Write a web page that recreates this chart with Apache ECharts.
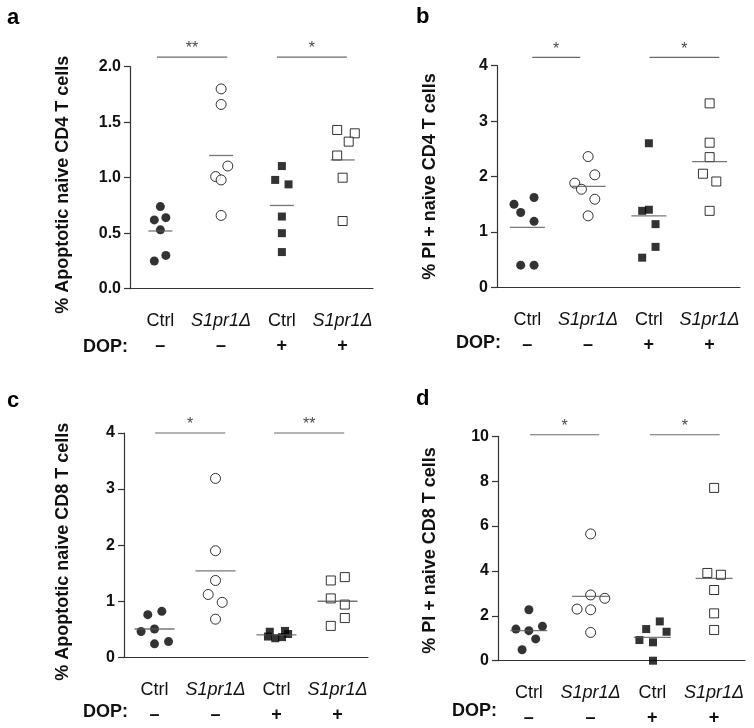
<!DOCTYPE html>
<html>
<head>
<meta charset="utf-8">
<script src="https://cdn.jsdelivr.net/npm/echarts@6/dist/echarts.min.js"></script>
<style>
html, body { margin: 0; padding: 0; background: #fff; }
#main { width: 754px; height: 728px; }
</style>
</head>
<body>
<div id="main"></div>
<script>
// groups on the x axis
var groups = ['Ctrl', 'S1pr1Δ', 'Ctrl', 'S1pr1Δ'];
var dop = ['–', '–', '+', '+'];

// a: % apoptotic naive CD4 T cells
var aVals = [
    [0.74, 0.62, 0.64, 0.53, 0.25, 0.30],
    [1.80, 1.66, 1.105, 1.01, 0.98, 0.66],
    [1.105, 0.98, 0.94, 0.65, 0.50, 0.33],
    [1.43, 1.40, 1.325, 1.20, 1.00, 0.61]
];
var aJit = [
    [0, -0.1, 0.09, 0, -0.1, 0.09],
    [0, 0, 0.11, -0.09, 0, 0],
    [0, -0.11, 0.11, 0, 0, 0],
    [-0.09, 0.2, 0.1, -0.09, 0, 0]
];
var aMeans = [0.52, 1.20, 0.75, 1.16];
var aSig = [[-0.056, 1.10, '**'], [1.92, 3.07, '*']];
var aSigY = 2.087;

// b: % PI+ naive CD4 T cells
var bVals = [
    [1.50, 1.62, 1.35, 1.19, 0.40, 0.40],
    [2.36, 2.03, 1.88, 1.77, 1.59, 1.29],
    [2.60, 1.38, 1.40, 1.14, 0.73, 0.535],
    [3.32, 2.61, 2.35, 2.05, 1.91, 1.38]
];
var bJit = [
    [-0.22, 0.11, -0.11, 0.11, -0.11, 0.11],
    [0, 0.11, -0.22, -0.11, 0.11, 0],
    [0, -0.11, 0, 0.11, 0.11, -0.11],
    [0, 0, 0, -0.11, 0.11, 0]
];
var bMeans = [1.08, 1.82, 1.29, 2.27];
var bSig = [[0.08, 0.87, '*'], [2.01, 3.16, '*']];
var bSigY = 4.15;

// c: % apoptotic naive CD8 T cells
var cVals = [
    [0.76, 0.82, 0.46, 0.505, 0.24, 0.28],
    [3.19, 1.90, 1.37, 1.12, 0.98, 0.68],
    [0.456, 0.47, 0.37, 0.34, 0.36, 0.415],
    [1.37, 1.43, 1.05, 0.94, 0.70, 0.56]
];
var cJit = [
    [-0.11, 0.12, -0.22, 0, 0, 0.23],
    [0, 0, 0, -0.12, 0.11, 0],
    [-0.11, 0.14, -0.14, -0.02, 0.09, 0.19],
    [-0.11, 0.12, -0.11, 0.12, 0.12, -0.11]
];
var cMeans = [0.505, 1.54, 0.40, 1.00];
var cSig = [[0.01, 1.16, '*'], [1.96, 3.11, '**']];
var cSigY = 4.0;

// d: % PI+ naive CD8 T cells
var dVals = [
    [2.27, 1.41, 1.34, 1.53, 0.97, 0.49],
    [5.65, 2.93, 2.78, 2.30, 2.27, 1.26],
    [1.75, 1.41, 1.29, 0.92, 0.82, 0.0],
    [7.70, 3.91, 3.83, 3.15, 2.11, 1.37]
];
var dJit = [
    [0, -0.21, 0, 0.22, 0.11, -0.11],
    [0, 0, 0.23, -0.22, 0, 0],
    [0.12, -0.1, 0.23, -0.21, 0.01, 0.01],
    [0, -0.11, 0.11, 0, 0, 0]
];
var dMeans = [1.34, 2.87, 1.04, 3.67];
var dSig = [[0.02, 1.14, '*'], [1.96, 3.09, '*']];
var dSigY = 10.07;

var font = 'Liberation Sans, Arial, Helvetica, sans-serif';
var ink = '#111';
var axisCol = '#333';

var panels = [
    {letter: 'a', name: '% Apoptotic naive CD4 T cells', max: 2, interval: 0.5, digits: 1,
     vals: aVals, jit: aJit, means: aMeans, sig: aSig, sigY: aSigY, meanW: 24, nameGap: 58, nameShift: 14,
     grid: {left: 130, top: 66.7, width: 243, height: 222}, dopAt: [128, 347], letterAt: [7, 18]},
    {letter: 'b', name: '% PI + naive CD4 T cells', max: 4, interval: 1, digits: 0,
     vals: bVals, jit: bJit, means: bMeans, sig: bSig, sigY: bSigY, meanW: 35, nameGap: 58, nameShift: 0,
     grid: {left: 497, top: 65.7, width: 243, height: 221.6}, dopAt: [501, 343], letterAt: [416, 17]},
    {letter: 'c', name: '% Apoptotic naive CD8 T cells', max: 4, interval: 1, digits: 0,
     vals: cVals, jit: cJit, means: cMeans, sig: cSig, sigY: cSigY, meanW: 40, nameGap: 52, nameShift: 13,
     grid: {left: 124, top: 433, width: 244, height: 224.3}, dopAt: [128, 712], letterAt: [7, 401]},
    {letter: 'd', name: '% PI + naive CD8 T cells', max: 10, interval: 2, digits: 0,
     vals: dVals, jit: dJit, means: dMeans, sig: dSig, sigY: dSigY, meanW: 37, nameGap: 59, nameShift: 4,
     grid: {left: 498, top: 436.3, width: 247, height: 224.4}, dopAt: [497, 711], letterAt: [416, 399]}
];

// marker look per group: filled circle, open circle, filled square, open square
var markers = [
    {symbol: 'circle', size: 9, fill: '#000'},
    {symbol: 'circle', size: 10, fill: '#fff'},
    {symbol: 'rect', size: 8, fill: '#000'},
    {symbol: 'rect', size: 9, fill: '#fff'}
];

var option = {
    animation: false,
    backgroundColor: '#fff',
    textStyle: {fontFamily: font},
    grid: [], xAxis: [], yAxis: [], series: [], graphic: []
};

panels.forEach(function (p, i) {
    option.grid.push(p.grid);
    option.xAxis.push({
        type: 'category', gridIndex: i, data: groups,
        axisLine: {onZero: false, lineStyle: {color: axisCol, width: 1.2}},
        axisTick: {alignWithLabel: true, length: 6, lineStyle: {color: axisCol, width: 1.2}},
        axisLabel: {
            margin: 20, interval: 0,
            formatter: function (v, k) {
                var top = k % 2 ? '{i|' + v + '}' : '{n|' + v + '}';
                return top + '\n{s|' + dop[k] + '}';
            },
            rich: {
                n: {fontSize: 18, color: ink, lineHeight: 25, fontFamily: font},
                i: {fontSize: 18, color: ink, lineHeight: 25, fontStyle: 'italic', fontFamily: font},
                s: {fontSize: 18, color: ink, lineHeight: 25, fontWeight: 'bold', fontFamily: font}
            }
        },
        splitLine: {show: false}
    });
    option.xAxis.push({type: 'value', gridIndex: i, min: -0.5, max: 3.5, show: false});
    option.yAxis.push({
        type: 'value', gridIndex: i, min: 0, max: p.max, interval: p.interval,
        name: p.name, nameLocation: 'middle', nameGap: p.nameGap,
        nameTextStyle: {fontSize: 18, fontWeight: 'bold', color: ink, fontFamily: font,
                        padding: [0, p.nameShift, 0, 0]},
        axisLine: {show: true, onZero: false, lineStyle: {color: axisCol, width: 1.2}},
        axisTick: {show: true, length: 6, lineStyle: {color: axisCol, width: 1.2}},
        axisLabel: {
            margin: 9, fontSize: 16, fontWeight: 'bold', color: ink,
            formatter: function (v) { return v.toFixed(p.digits); }
        },
        splitLine: {show: false}
    });

    var xi = 2 * i + 1;
    p.vals.forEach(function (vals, g) {
        var m = markers[g];
        option.series.push({
            type: 'scatter', xAxisIndex: xi, yAxisIndex: i, clip: false,
            symbol: m.symbol, symbolSize: m.size,
            itemStyle: {color: m.fill, borderColor: '#000', borderWidth: m.fill === '#fff' ? 1 : 0},
            data: vals.map(function (v, k) { return [g + p.jit[g][k], v]; }),
            z: 3
        });
    });

    // group means
    option.series.push({
        type: 'scatter', xAxisIndex: xi, yAxisIndex: i, clip: false,
        symbol: 'rect', symbolSize: [p.meanW, 1.3],
        itemStyle: {color: '#555'},
        data: p.means.map(function (m, g) { return [g, m]; }),
        z: 4
    });

    // significance bars
    p.sig.forEach(function (s) {
        option.series.push({
            type: 'line', xAxisIndex: xi, yAxisIndex: i, clip: false,
            symbol: 'none', lineStyle: {color: '#6a6a6a', width: 1.2},
            data: [[s[0], p.sigY], [s[1], p.sigY]]
        });
        option.series.push({
            type: 'scatter', xAxisIndex: xi, yAxisIndex: i, clip: false,
            symbolSize: 0,
            label: {show: true, position: 'top', distance: 0, formatter: s[2],
                    fontSize: 16, color: ink, fontFamily: font},
            data: [[(s[0] + s[1]) / 2, p.sigY]]
        });
    });

    option.graphic.push({
        type: 'text', left: p.letterAt[0], top: p.letterAt[1] - 11,
        style: {text: p.letter, font: 'bold 22px ' + font, fill: '#000'}
    });
    option.graphic.push({
        type: 'text', x: p.dopAt[0], y: p.dopAt[1],
        style: {text: 'DOP:', font: 'bold 18px ' + font, fill: ink,
                textAlign: 'right', textVerticalAlign: 'middle'}
    });
});

var chart = echarts.init(document.getElementById('main'));
chart.setOption(option);
</script>
</body>
</html>
